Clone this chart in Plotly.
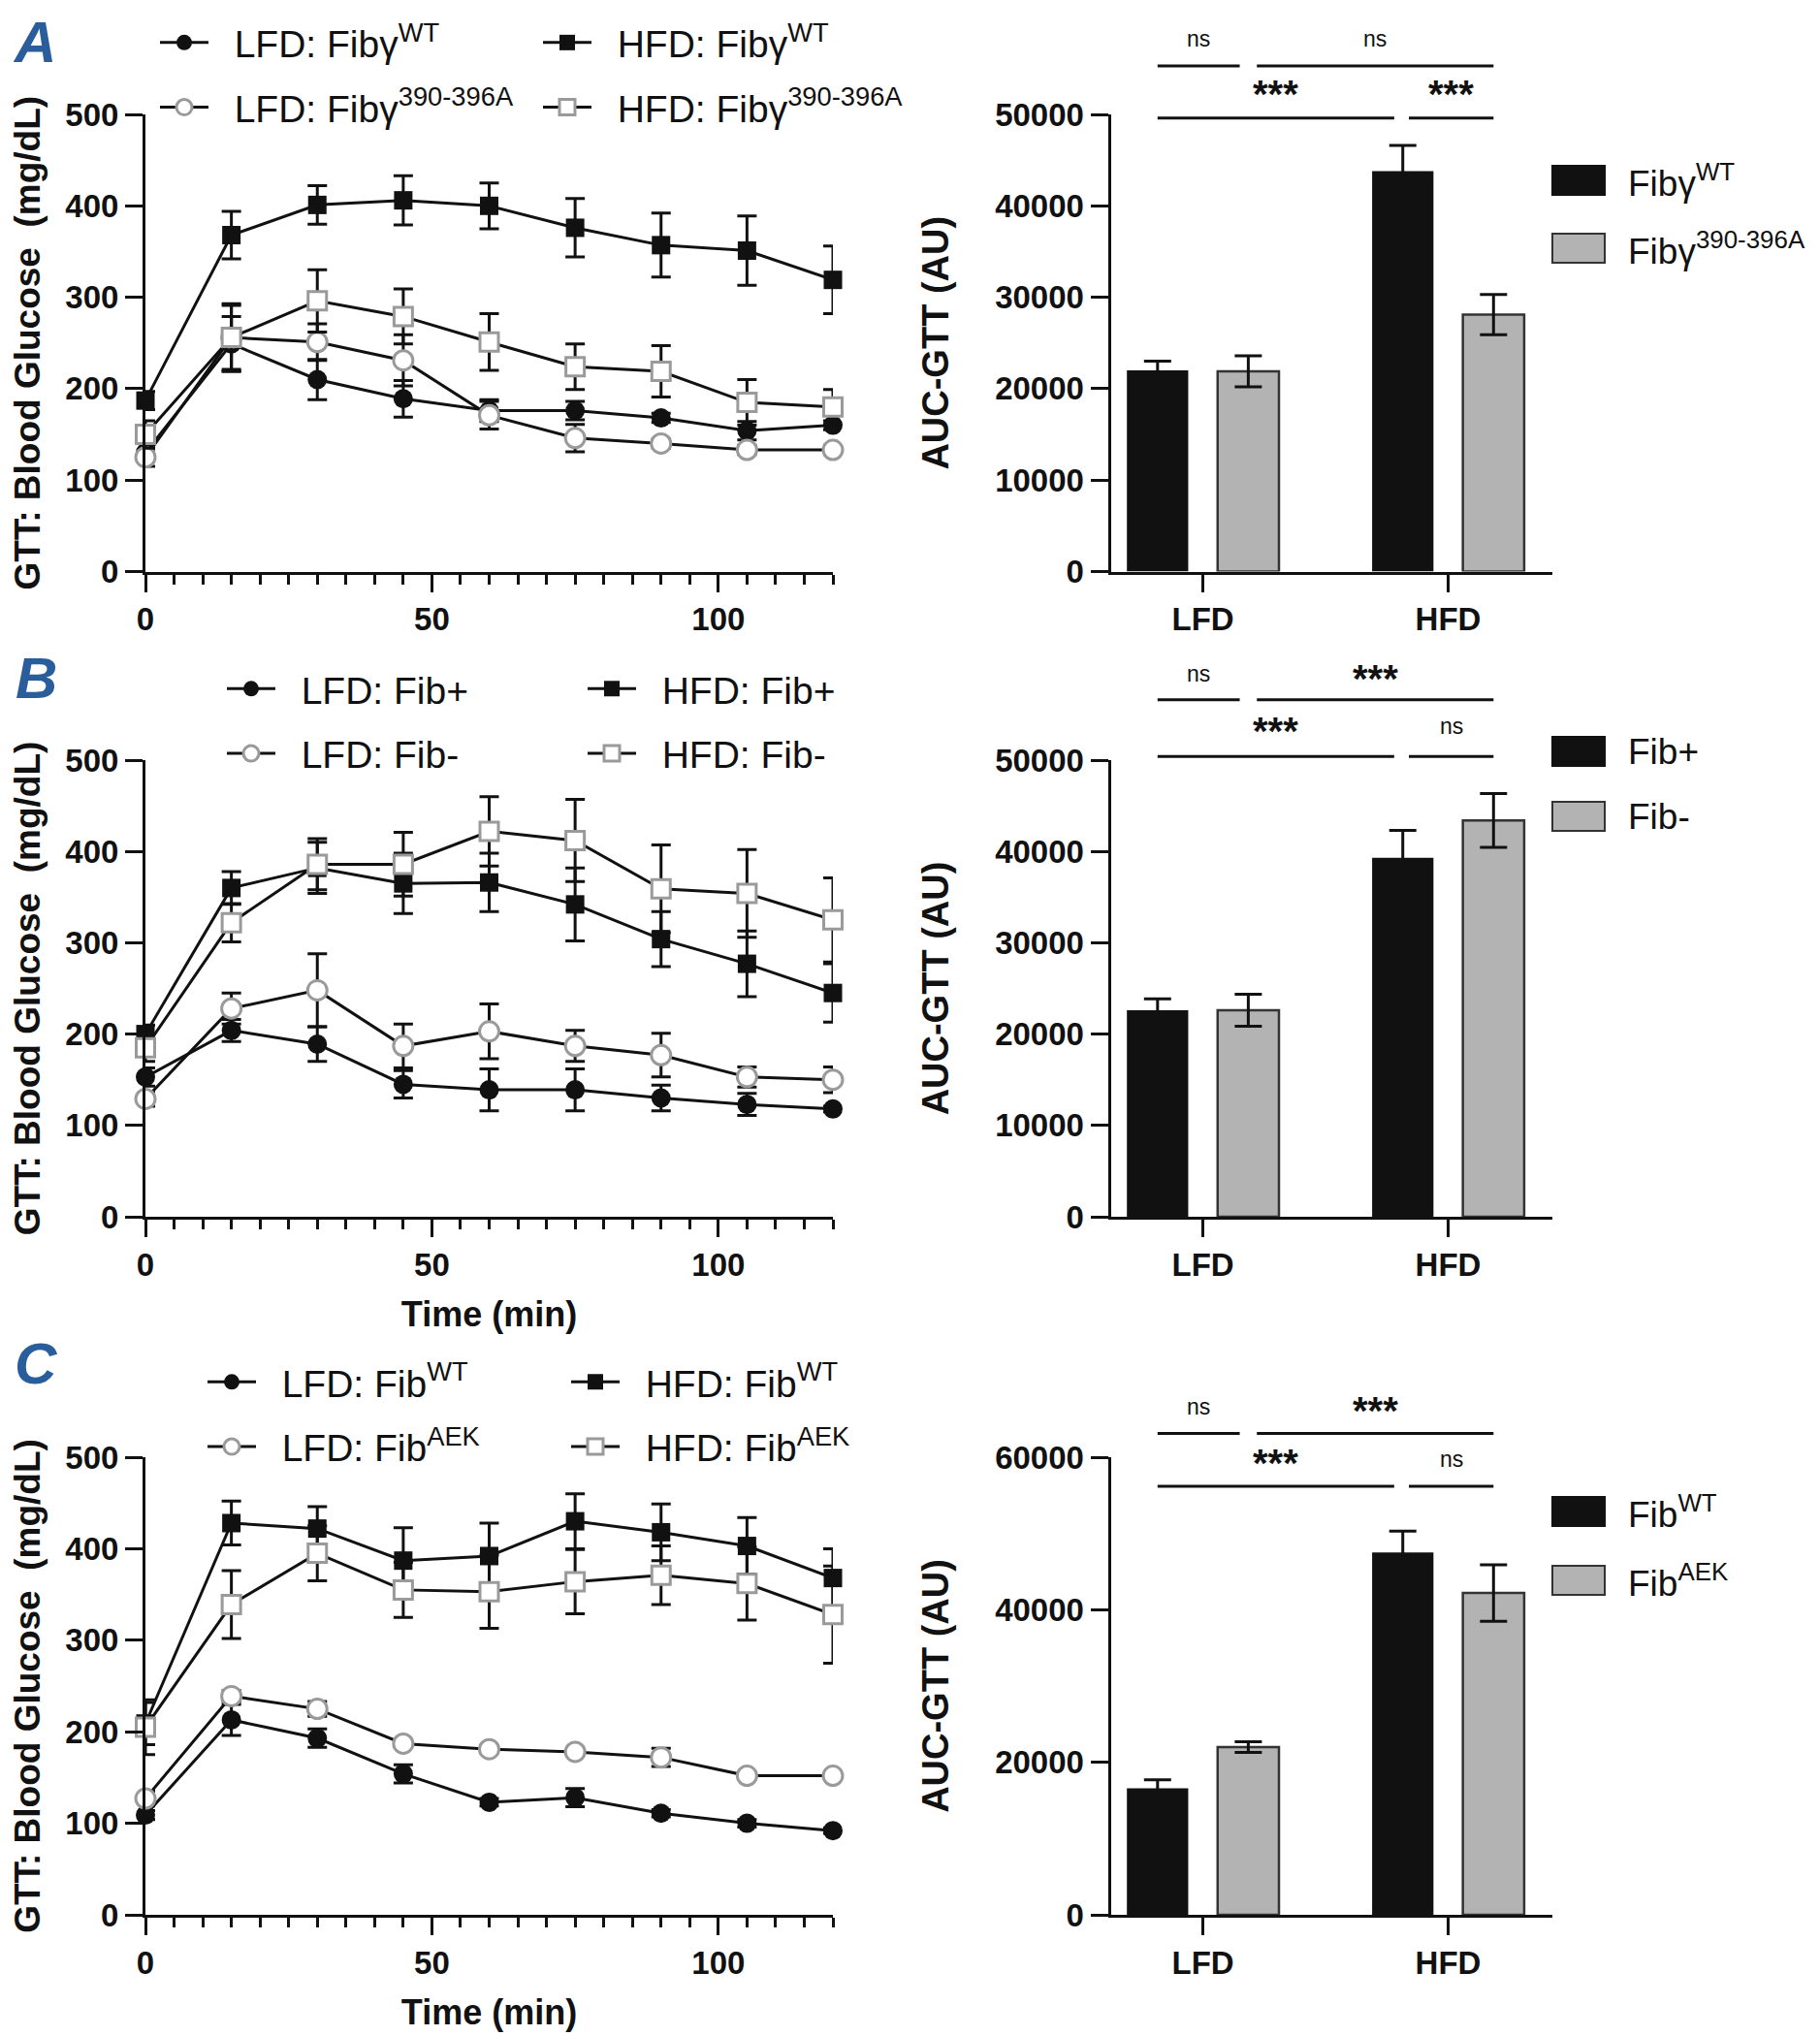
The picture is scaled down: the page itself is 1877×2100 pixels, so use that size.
import plotly.graph_objects as go

# ---------------- data ----------------
time_min = [0, 15, 30, 45, 60, 75, 90, 105, 120]

# Panel A (Fibγ WT vs 390-396A)
a_lfd_wt = [130, 249, 210, 189, 176, 176, 168, 154, 160]
a_lfd_wt_err = [10, 30, 22, 20, 12, 10, 5, 10, 5]
a_lfd_mut = [125, 256, 251, 231, 171, 146, 140, 133, 133]
a_lfd_mut_err = [10, 35, 20, 28, 15, 15, 5, 5, 5]
a_hfd_wt = [187, 368, 401, 406, 400, 376, 357, 351, 319]
a_hfd_wt_err = [10, 26, 21, 27, 25, 32, 35, 38, 37]
a_hfd_mut = [150, 256, 296, 279, 251, 224, 219, 185, 180]
a_hfd_mut_err = [15, 37, 34, 30, 31, 25, 28, 25, 19]

# Panel B (Fib+ vs Fib-)
b_lfd_pos = [153, 204, 189, 145, 139, 139, 130, 123, 118]
b_lfd_pos_err = [10, 12, 19, 15, 23, 23, 14, 12, 3]
b_lfd_neg = [129, 228, 248, 187, 203, 187, 177, 153, 150]
b_lfd_neg_err = [8, 17, 40, 24, 30, 17, 24, 11, 14]
b_hfd_pos = [200, 360, 382, 365, 366, 342, 304, 277, 245]
b_hfd_pos_err = [10, 18, 28, 33, 32, 40, 30, 36, 32]
b_hfd_neg = [185, 322, 386, 386, 422, 412, 359, 354, 325]
b_hfd_neg_err = [15, 21, 28, 35, 38, 45, 48, 48, 46]

# Panel C (Fib WT vs AEK)
c_lfd_wt = [109, 213, 193, 154, 123, 128, 111, 100, 92]
c_lfd_wt_err = [5, 17, 10, 10, 4, 10, 4, 4, 3]
c_lfd_aek = [127, 239, 225, 187, 181, 178, 172, 152, 152]
c_lfd_aek_err = [8, 6, 8, 4, 4, 4, 10, 4, 4]
c_hfd_wt = [209, 428, 422, 387, 392, 430, 418, 403, 368]
c_hfd_wt_err = [23, 24, 24, 36, 36, 30, 31, 31, 32]
c_hfd_aek = [205, 339, 395, 355, 353, 364, 371, 362, 328]
c_hfd_aek_err = [30, 37, 30, 30, 40, 35, 32, 40, 53]

# AUC bars
diet_labels = ["LFD", "HFD"]
a_auc_wt = [22000, 43800]
a_auc_wt_err = [1000, 2800]
a_auc_mut = [21900, 28100]
a_auc_mut_err = [1700, 2200]
b_auc_pos = [22600, 39300]
b_auc_pos_err = [1250, 3000]
b_auc_neg = [22600, 43400]
b_auc_neg_err = [1750, 2950]
c_auc_wt = [16600, 47500]
c_auc_wt_err = [1100, 2800]
c_auc_aek = [22000, 42200]
c_auc_aek_err = [700, 3700]

# significance: (group_a, series_a, group_b, series_b, label, level)
sig_a = [(0, 0, 0, 1, "ns", "up"), (0, 1, 1, 1, "ns", "up"),
         (0, 0, 1, 0, "***", "low"), (1, 0, 1, 1, "***", "low")]
sig_b = [(0, 0, 0, 1, "ns", "up"), (0, 1, 1, 1, "***", "up"),
         (0, 0, 1, 0, "***", "low"), (1, 0, 1, 1, "ns", "low")]
sig_c = sig_b

# ---------------- style / layout constants ----------------
W, H = 1877, 2100
OFF = 8  # page body margin compensation (px)
FONT = "Liberation Sans, Arial, sans-serif"
BLACK = "#111111"
GRAY_MK = "#9a9a9a"
GRAY_BAR = "#b3b3b3"
BLUE = "#2a5d9c"
PAD = "\u00a0\u00a0"


def px_x(p):
    return (p - OFF) / W


def px_y(p):
    return 1 - (p - OFF) / H


fig = go.Figure()

# panel geometry in pixels: (y_zero_px, y_top_px)
panels = [
    dict(key="A", y0=589.5, y1=118.0),
    dict(key="B", y0=1255.0, y1=784.0),
    dict(key="C", y0=1975.0, y1=1503.0),
]
LINE_X = (150.0, 859.0)
BAR_X = (1145.5, 1601.0)
BAR_RANGE = [-0.376, 1.425]

line_sets = [
    [("LFD: Fibγ<sup>WT</sup>", a_lfd_wt, a_lfd_wt_err, "circle", True),
     ("HFD: Fibγ<sup>WT</sup>", a_hfd_wt, a_hfd_wt_err, "square", True),
     ("LFD: Fibγ<sup>390-396A</sup>", a_lfd_mut, a_lfd_mut_err, "circle", False),
     ("HFD: Fibγ<sup>390-396A</sup>", a_hfd_mut, a_hfd_mut_err, "square", False)],
    [("LFD: Fib+", b_lfd_pos, b_lfd_pos_err, "circle", True),
     ("HFD: Fib+", b_hfd_pos, b_hfd_pos_err, "square", True),
     ("LFD: Fib-", b_lfd_neg, b_lfd_neg_err, "circle", False),
     ("HFD: Fib-", b_hfd_neg, b_hfd_neg_err, "square", False)],
    [("LFD: Fib<sup>WT</sup>", c_lfd_wt, c_lfd_wt_err, "circle", True),
     ("HFD: Fib<sup>WT</sup>", c_hfd_wt, c_hfd_wt_err, "square", True),
     ("LFD: Fib<sup>AEK</sup>", c_lfd_aek, c_lfd_aek_err, "circle", False),
     ("HFD: Fib<sup>AEK</sup>", c_hfd_aek, c_hfd_aek_err, "square", False)],
]

bar_sets = [
    [("Fibγ<sup>WT</sup>", a_auc_wt, a_auc_wt_err), ("Fibγ<sup>390-396A</sup>", a_auc_mut, a_auc_mut_err)],
    [("Fib+", b_auc_pos, b_auc_pos_err), ("Fib-", b_auc_neg, b_auc_neg_err)],
    [("Fib<sup>WT</sup>", c_auc_wt, c_auc_wt_err), ("Fib<sup>AEK</sup>", c_auc_aek, c_auc_aek_err)],
]
bar_ymax = [50000, 50000, 60000]
bar_dtick = [10000, 10000, 20000]
sig_sets = [sig_a, sig_b, sig_c]
sig_levels = [
    dict(up=55300, up_ns=58300, up_st=58000, low=49600, low_ns=52500, low_st=52200),
    dict(up=56600, up_ns=59400, up_st=58900, low=50400, low_ns=53700, low_st=53200),
    dict(up=63100, up_ns=66600, up_st=66100, low=56200, low_ns=59800, low_st=59200),
]

# legend placements (px): col1 left, col2 left, middle y
legend_pos = [(160, 555, 77.5), (229, 601, 744), (209, 584, 1459)]
# bar legend (px): swatch left, rows centre y
bar_leg_pos = [(1601, (186, 256)), (1601, (775, 842)), (1601, (1559, 1630))]
# panel letters: (text, centre x px, top y px)
letters = [("A", 35, 0), ("B", 37, 664), ("C", 37, 1371)]

BAR_OFF = 0.185
shapes = []
annotations = []

for i, pnl in enumerate(panels):
    xa_l = "x" if i == 0 else f"x{2 * i + 1}"
    ya_l = "y" if i == 0 else f"y{2 * i + 1}"
    xa_b = f"x{2 * i + 2}"
    ya_b = f"y{2 * i + 2}"
    ydom = [px_y(pnl["y0"]), px_y(pnl["y1"])]
    leg1 = "legend" if i == 0 else f"legend{2 * i + 1}"
    leg2 = f"legend{2 * i + 2}"

    # ---- line traces ----
    for j, (name, vals, errs, sym, filled) in enumerate(line_sets[i]):
        leg = leg1 if j in (0, 2) else leg2
        fig.add_trace(go.Scatter(
            x=time_min, y=vals, name=PAD + name, mode="lines+markers",
            xaxis=xa_l, yaxis=ya_l, legend=leg, legendgroup=f"g{i}_{j}",
            line=dict(color=BLACK, width=3),
            marker=dict(symbol=sym, size=20 if sym == "circle" else 19,
                        color=BLACK if filled else "white",
                        line=dict(color=BLACK if filled else GRAY_MK, width=0 if filled else 3)),
            error_y=dict(type="data", array=errs, color=BLACK, thickness=3, width=10),
            cliponaxis=False,
        ))

    # ---- bar traces ----
    for j, (name, vals, errs) in enumerate(bar_sets[i]):
        fig.add_trace(go.Bar(
            x=[0, 1], y=vals, name=name, xaxis=xa_b, yaxis=ya_b, showlegend=False,
            marker=dict(color=BLACK if j == 0 else GRAY_BAR,
                        line=dict(color=BLACK if j == 0 else "#333333", width=0 if j == 0 else 2.5)),
            error_y=dict(type="data", array=errs, color=BLACK, thickness=3, width=14),
        ))

    # ---- axes ----
    common = dict(showgrid=False, zeroline=False, showline=True, linewidth=3, linecolor=BLACK,
                  ticks="outside", tickwidth=3, tickcolor=BLACK, automargin=False,
                  tickfont=dict(family=FONT, size=33, color=BLACK, weight="bold"))
    title_font = dict(family=FONT, size=37, color=BLACK, weight="bold")
    xl = dict(common, domain=[px_x(LINE_X[0]), px_x(LINE_X[1])], range=[0, 120],
              tickvals=[0, 50, 100], ticklen=18, anchor=ya_l,
              minor=dict(dtick=5, tick0=0, ticklen=10, tickwidth=3, ticks="outside", tickcolor=BLACK, showgrid=False))
    if i > 0:
        xl["title"] = dict(text="Time (min)", font=dict(title_font, size=36), standoff=22)
    yl = dict(common, domain=ydom, range=[0, 500], dtick=100, ticklen=18, anchor=xa_l,
              title=dict(text="GTT: Blood Glucose\u00a0\u00a0(mg/dL)", font=title_font, standoff=30))
    xb = dict(common, domain=[px_x(BAR_X[0]), px_x(BAR_X[1])], range=BAR_RANGE,
              tickvals=[0, 1], ticktext=diet_labels, ticklen=18, anchor=ya_b)
    yb = dict(common, domain=ydom, range=[0, bar_ymax[i]], dtick=bar_dtick[i], ticklen=18, anchor=xa_b,
              tickformat="d",
              title=dict(text="AUC-GTT (AU)", font=dict(title_font, size=38), standoff=36))
    sfx_l = "" if i == 0 else str(2 * i + 1)
    sfx_b = str(2 * i + 2)
    fig.update_layout(**{f"xaxis{sfx_l}": xl, f"yaxis{sfx_l}": yl,
                         f"xaxis{sfx_b}": xb, f"yaxis{sfx_b}": yb})

    # ---- legends for line chart ----
    c1, c2, ym = legend_pos[i]
    for leg, xl_px in ((leg1, c1), (leg2, c2)):
        fig.update_layout(**{leg: dict(
            x=px_x(xl_px), y=px_y(ym), xanchor="left", yanchor="middle",
            orientation="v", bgcolor="rgba(0,0,0,0)", borderwidth=0,
            font=dict(family=FONT, size=39, color=BLACK),
            itemwidth=50, tracegroupgap=13, itemclick=False, itemdoubleclick=False,
        )})

    # ---- manual bar legend ----
    sw_left, rows = bar_leg_pos[i]
    for j, (name, _, _) in enumerate(bar_sets[i]):
        yc = rows[j]
        shapes.append(dict(type="rect", xref="paper", yref="paper",
                           x0=px_x(sw_left), x1=px_x(sw_left + 54),
                           y0=px_y(yc + 15), y1=px_y(yc - 15),
                           fillcolor=BLACK if j == 0 else GRAY_BAR,
                           line=dict(color=BLACK if j == 0 else "#333333", width=2)))
        annotations.append(dict(text=name, xref="paper", yref="paper",
                                x=px_x(sw_left + 76), y=px_y(yc), xanchor="left", yanchor="middle",
                                showarrow=False, font=dict(family=FONT, size=37, color=BLACK)))

    # ---- significance brackets ----
    lv = sig_levels[i]
    span = BAR_RANGE[1] - BAR_RANGE[0]
    for (ga, sa, gb, sb, lab, level) in sig_sets[i]:
        xa_pos = ga + (-BAR_OFF if sa == 0 else BAR_OFF)
        xb_pos = gb + (-BAR_OFF if sb == 0 else BAR_OFF)
        xa_pos += 0.035 if sa == 1 else 0.0
        xb_pos -= 0.035 if (sb == 0 or (gb == 0 and sb == 1)) else 0.0
        if level == "low" and ga == 1:
            xa_pos += 0.025
        yline = lv["up"] if level == "up" else lv["low"]
        ytxt = (lv["up_ns"] if lab == "ns" else lv["up_st"]) if level == "up" else \
               (lv["low_ns"] if lab == "ns" else lv["low_st"])
        d0 = (xa_pos - BAR_RANGE[0]) / span
        d1 = (xb_pos - BAR_RANGE[0]) / span
        yd = yline / bar_ymax[i]
        shapes.append(dict(type="line", xref=f"{xa_b} domain", yref=f"{ya_b} domain",
                           x0=d0, x1=d1, y0=yd, y1=yd, line=dict(color=BLACK, width=3)))
        annotations.append(dict(text=lab, xref=f"{xa_b} domain", yref=f"{ya_b} domain",
                                x=(d0 + d1) / 2, y=ytxt / bar_ymax[i],
                                xanchor="center", yanchor="middle", showarrow=False,
                                font=dict(family=FONT, size=23 if lab == "ns" else 40, color=BLACK,
                                          weight="normal" if lab == "ns" else "bold")))

for (t, xp, yp) in letters:
    annotations.append(dict(text=t, xref="paper", yref="paper", x=px_x(xp),
                            y=min(1.0, px_y(yp)),
                            xanchor="center", yanchor="top", showarrow=False,
                            font=dict(family=FONT, size=60, color=BLUE, weight="bold", style="italic")))

fig.update_layout(
    template="none",
    width=W, height=H, margin=dict(l=0, r=0, t=0, b=0, autoexpand=False),
    paper_bgcolor="white", plot_bgcolor="white",
    bargap=0.26, bargroupgap=0.324, barmode="group",
    shapes=shapes, annotations=annotations,
    font=dict(family=FONT, color=BLACK),
)

fig.write_html("out.html")
